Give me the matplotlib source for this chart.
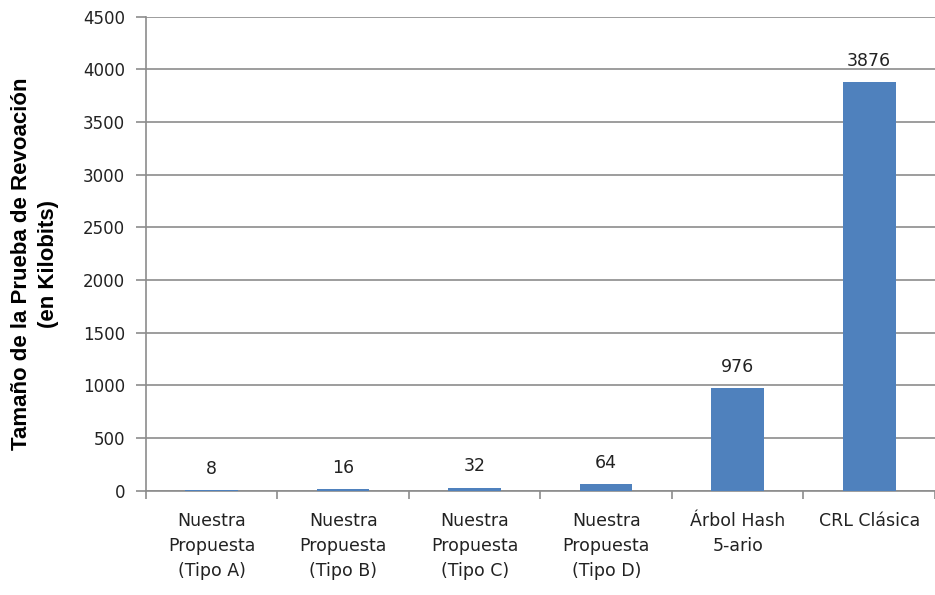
import numpy as np
import matplotlib.pyplot as plt

plt.rcParams['font.family'] = ['DejaVu Sans']

categorias = ["Nuestra\nPropuesta\n(Tipo A)", "Nuestra\nPropuesta\n(Tipo B)",
              "Nuestra\nPropuesta\n(Tipo C)", "Nuestra\nPropuesta\n(Tipo D)",
              "Árbol Hash\n5-ario", "CRL Clásica"]
valores = [8, 16, 32, 64, 976, 3876]
yticks = [0, 500, 1000, 1500, 2000, 2500, 3000, 3500, 4000, 4500]

fig = plt.figure(figsize=(9.35, 5.95), dpi=100)
ax = fig.add_axes([0.156, 0.175, 0.844, 0.797])

x = np.arange(len(valores))
ax.bar(x, valores, width=0.4, color='#4F81BD', zorder=3)

# etiquetas de valor encima de cada barra
for xi, v in zip(x, valores):
    ax.annotate(str(v), (xi, v), xytext=(0, 9), textcoords='offset points',
                ha='center', va='bottom', fontsize=12.5, color='#222222')

ax.set_xlim(-0.5, len(valores) - 0.5)
ax.set_ylim(0, 4500)
ax.set_yticks(yticks)
ax.yaxis.grid(True, color='#8c8c8c', linewidth=1.2, zorder=0)

ax.set_xticks(np.arange(len(valores) + 1) - 0.5)
ax.set_xticklabels([])
ax.set_xticks(x, minor=True)
ax.set_xticklabels(categorias, minor=True, fontsize=12.5, linespacing=1.5, color='#222222')
ax.tick_params(axis='x', which='minor', length=0, pad=15)
ax.tick_params(axis='x', which='major', length=6, color='#8c8c8c', width=1.2)
ax.tick_params(axis='y', length=7, color='#8c8c8c', width=1.2, labelsize=12, labelcolor='#222222', pad=8)

for s in ['top', 'right']:
    ax.spines[s].set_visible(False)
ax.spines['left'].set_color('#8c8c8c')
ax.spines['bottom'].set_color('#8c8c8c')
ax.spines['left'].set_linewidth(1.2)
ax.spines['bottom'].set_linewidth(1.2)

ax.set_ylabel("Tamaño de la Prueba de Revoación\n(en Kilobits)", fontsize=16,
              fontweight='bold', family='Liberation Sans', linespacing=1.4)
ax.yaxis.set_label_coords(-0.11, 0.478)

fig.savefig('out.png', dpi=100)
